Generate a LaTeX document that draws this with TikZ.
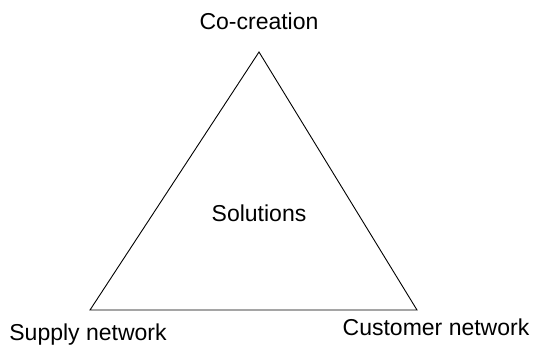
\documentclass[tikz,border=0pt]{standalone}
\usepackage{fontspec}
\setmainfont{Liberation Sans}
\usetikzlibrary{positioning}
\tikzstyle{corner} = [inner sep=0pt, minimum size=0pt]
\tikzstyle{label} = [font=\fontsize{23}{27}\selectfont, inner sep=0pt, anchor=base]
\tikzstyle{side} = [draw=black, line width=0.9pt, line join=miter]

\begin{document}
\begin{tikzpicture}[x=1pt, y=-1pt]

\useasboundingbox (0,0) rectangle (534,349);

\coordinate (top) at (259,52);
\coordinate (left) at (90,310);
\coordinate (right) at (417,310);

\node (cocreation) [label] at (259,29) {Co-creation};
\node (solutions) [label] at (259,221) {Solutions};
\node (supply) [label] at (88,340) {Supply network};
\node (customer) [label] at (436,335) {Customer network};

\draw [side] (top) -- (left) -- (right) -- cycle;

\end{tikzpicture}
\end{document}
